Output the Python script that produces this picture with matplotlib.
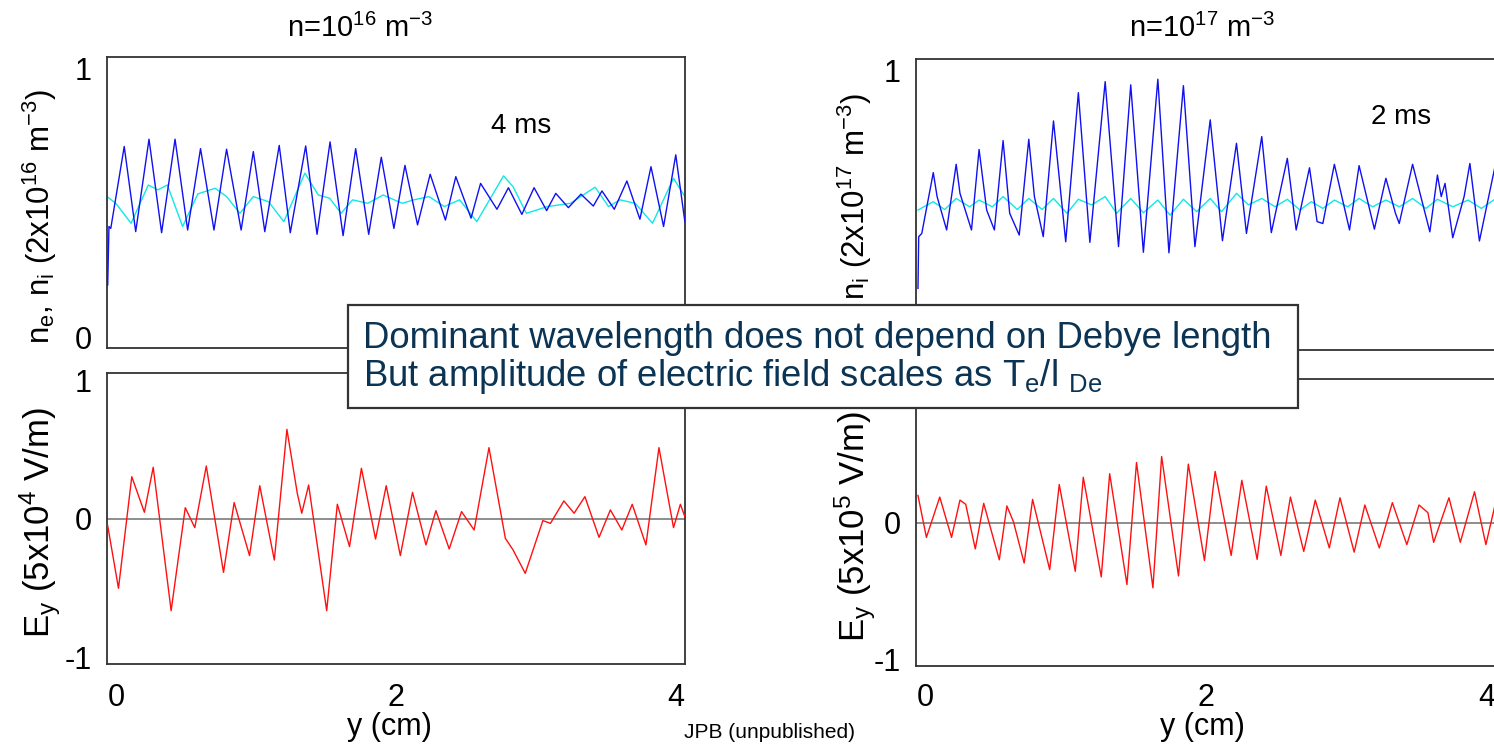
import matplotlib
matplotlib.use("Agg")
import matplotlib.pyplot as plt
from matplotlib.patches import Rectangle

plt.rcParams['font.family'] = ['Liberation Sans', 'DejaVu Sans']
plt.rcParams['mathtext.fontset'] = 'custom'
plt.rcParams['mathtext.rm'] = 'Liberation Sans'
plt.rcParams['mathtext.it'] = 'Liberation Sans'
plt.rcParams['mathtext.default'] = 'regular'

# ---------------- data: n = 1e16 m^-3 (left column) ----------------
ne16_y = [-0.059, -0.050, -0.037, 0.059, 0.141, 0.236, 0.326, 0.422, 0.512, 0.604,
          0.700, 0.790, 0.894, 0.981, 1.063, 1.166, 1.245, 1.355, 1.436, 1.529,
          1.622, 1.712, 1.805, 1.895, 1.985, 2.064, 2.154, 2.244, 2.353, 2.427,
          2.536, 2.604, 2.721, 2.803, 2.899, 2.986, 3.076, 3.141, 3.231, 3.321,
          3.409, 3.471, 3.559, 3.649, 3.742, 3.821, 3.911, 3.998, 4.063]
ne16 = [0.195, 0.412, 0.405, 0.709, 0.393, 0.736, 0.389, 0.736, 0.399, 0.701,
        0.399, 0.699, 0.399, 0.690, 0.393, 0.713, 0.389, 0.711, 0.383, 0.726,
        0.378, 0.701, 0.383, 0.669, 0.405, 0.639, 0.418, 0.606, 0.436, 0.597,
        0.443, 0.572, 0.476, 0.556, 0.457, 0.556, 0.471, 0.535, 0.482, 0.532,
        0.488, 0.544, 0.476, 0.581, 0.439, 0.634, 0.412, 0.678, 0.430]

ni16_y = [-0.064, -0.001, 0.108, 0.231, 0.299, 0.367, 0.476, 0.585, 0.708, 0.790,
          0.885, 0.981, 1.090, 1.199, 1.349, 1.445, 1.526, 1.608, 1.690, 1.799,
          1.908, 2.045, 2.127, 2.236, 2.345, 2.454, 2.577, 2.768, 2.836, 2.931,
          3.081, 3.245, 3.422, 3.518, 3.600, 3.709, 3.832, 3.982, 4.063]
ni16 = [0.523, 0.498, 0.424, 0.566, 0.548, 0.566, 0.412, 0.533, 0.554, 0.523,
        0.461, 0.523, 0.504, 0.430, 0.610, 0.529, 0.517, 0.461, 0.511, 0.498,
        0.529, 0.498, 0.511, 0.523, 0.486, 0.511, 0.430, 0.600, 0.560, 0.461,
        0.486, 0.498, 0.558, 0.486, 0.511, 0.498, 0.424, 0.591, 0.523]

ey16_y = [-0.059, 0.018, 0.113, 0.203, 0.266, 0.394, 0.495, 0.563, 0.645, 0.768,
          0.844, 0.954, 1.027, 1.131, 1.221, 1.295, 1.327, 1.376, 1.505, 1.581,
          1.668, 1.753, 1.854, 1.930, 2.031, 2.118, 2.214, 2.285, 2.380, 2.468,
          2.558, 2.664, 2.781, 2.836, 2.923, 3.049, 3.103, 3.199, 3.272, 3.349,
          3.450, 3.531, 3.613, 3.687, 3.785, 3.878, 3.982, 4.031, 4.063]
ey16 = [-0.051, -0.503, 0.303, 0.046, 0.371, -0.665, 0.079, -0.065, 0.380, -0.388,
        0.116, -0.267, 0.238, -0.299, 0.645, 0.183, 0.039, 0.243, -0.665, 0.104,
        -0.202, 0.364, -0.147, 0.238, -0.267, 0.190, -0.190, 0.058, -0.219, 0.051,
        -0.082, 0.513, -0.142, -0.226, -0.395, -0.014, -0.034, 0.128, 0.039, 0.159,
        -0.135, 0.063, -0.082, 0.104, -0.190, 0.513, -0.065, 0.104, 0.014]

# ---------------- data: n = 1e17 m^-3 (right column) ----------------
ne17_y = [-0.052, -0.047, -0.025, 0.057, 0.084, 0.152, 0.220, 0.247, 0.329, 0.383,
          0.437, 0.492, 0.554, 0.601, 0.669, 0.737, 0.777, 0.840, 0.913, 1.000,
          1.090, 1.172, 1.281, 1.376, 1.463, 1.553, 1.656, 1.735, 1.838, 1.920,
          2.029, 2.116, 2.216, 2.287, 2.396, 2.464, 2.578, 2.641, 2.736, 2.790,
          2.831, 2.913, 3.021, 3.089, 3.198, 3.280, 3.348, 3.375, 3.470, 3.593,
          3.647, 3.674, 3.701, 3.756, 3.837, 3.878, 3.946, 4.055, 4.077]
ne17 = [0.189, 0.381, 0.393, 0.619, 0.530, 0.406, 0.650, 0.542, 0.406, 0.705,
        0.480, 0.406, 0.738, 0.468, 0.387, 0.743, 0.530, 0.381, 0.811, 0.362,
        0.916, 0.360, 0.957, 0.344, 0.945, 0.323, 0.966, 0.321, 0.942, 0.344,
        0.815, 0.366, 0.728, 0.393, 0.753, 0.396, 0.672, 0.406, 0.637, 0.437,
        0.430, 0.650, 0.406, 0.645, 0.409, 0.598, 0.468, 0.430, 0.650, 0.399,
        0.610, 0.530, 0.579, 0.377, 0.530, 0.653, 0.365, 0.637, 0.517]

ni17_y = [-0.052, 0.057, 0.138, 0.220, 0.315, 0.383, 0.478, 0.554, 0.655, 0.737,
          0.832, 0.913, 1.009, 1.090, 1.185, 1.281, 1.362, 1.463, 1.553, 1.656,
          1.743, 1.838, 1.933, 2.029, 2.110, 2.216, 2.301, 2.396, 2.491, 2.578,
          2.668, 2.749, 2.831, 2.913, 3.008, 3.089, 3.185, 3.280, 3.375, 3.470,
          3.565, 3.647, 3.756, 3.865, 3.960, 4.055, 4.077]
ni17 = [0.480, 0.511, 0.482, 0.523, 0.492, 0.517, 0.492, 0.530, 0.482, 0.523,
        0.482, 0.523, 0.468, 0.520, 0.499, 0.530, 0.468, 0.523, 0.470, 0.517,
        0.461, 0.520, 0.474, 0.523, 0.474, 0.542, 0.499, 0.523, 0.492, 0.520,
        0.480, 0.511, 0.486, 0.517, 0.492, 0.523, 0.492, 0.517, 0.492, 0.523,
        0.486, 0.520, 0.492, 0.517, 0.486, 0.520, 0.511]

ey17_y = [-0.052, 0.008, 0.103, 0.187, 0.247, 0.288, 0.356, 0.416, 0.527, 0.581,
          0.628, 0.704, 0.764, 0.886, 0.954, 1.068, 1.125, 1.253, 1.313, 1.436,
          1.504, 1.621, 1.683, 1.803, 1.873, 1.988, 2.064, 2.178, 2.254, 2.363,
          2.428, 2.532, 2.600, 2.695, 2.777, 2.877, 2.953, 3.054, 3.130, 3.233,
          3.326, 3.429, 3.516, 3.579, 3.620, 3.674, 3.729, 3.810, 3.911, 3.992,
          4.077]
ey17 = [0.198, -0.109, 0.186, -0.109, 0.164, 0.133, -0.193, 0.140, -0.273, 0.121,
        0.005, -0.297, 0.169, -0.345, 0.278, -0.357, 0.331, -0.398, 0.357, -0.454,
        0.439, -0.478, 0.483, -0.391, 0.427, -0.278, 0.374, -0.241, 0.309, -0.270,
        0.266, -0.241, 0.186, -0.212, 0.164, -0.186, 0.181, -0.217, 0.128, -0.186,
        0.145, -0.162, 0.128, 0.072, -0.145, 0.017, 0.181, -0.145, 0.225, -0.162,
        0.217]

xticks = [0, 2, 4]
xtick_labels = ['0', '2', '4']
n_ticks_left = [0, 1]
n_ticks_right = [1]          # the "0" label is hidden behind the note box
e_ticks_left = [-1, 0, 1]
e_ticks_right = [-1, 0]      # the "1" label is hidden behind the note box

titles = [r'n=10$^{16}$ m$^{-3}$', r'n=10$^{17}$ m$^{-3}$']
n_labels = [r'n$_{e}$, n$_{i}$ (2x10$^{16}$ m$^{-3}$)', r'n$_{i}$ (2x10$^{17}$ m$^{-3}$)']
e_labels = [r'E$_{y}$ (5x10$^{4}$ V/m)', r'E$_{y}$ (5x10$^{5}$ V/m)']
times = ['4 ms', '2 ms']

W, H = 1494, 745
fig = plt.figure(figsize=(W / 100, H / 100), dpi=100)


def fx(px):
    return px / W


def fy(py):
    return 1 - py / H


def make_ax(left, top, right, bottom):
    return fig.add_axes([fx(left), fy(bottom), fx(right - left), (bottom - top) / H])


ax_lt = make_ax(107, 57.3, 685, 348.3)
ax_lb = make_ax(107, 373.3, 685, 664)
ax_rt = make_ax(916.3, 59.3, 1496, 350)
ax_rb = make_ax(916.3, 379, 1496, 666)

XL = (-0.064, 4.064)
TICK_FS = 22
SPINE_C = '#333333'

for ax in (ax_lt, ax_lb, ax_rt, ax_rb):
    ax.set_xlim(*XL)
    for s in ax.spines.values():
        s.set_color(SPINE_C)
        s.set_linewidth(1.3)
    ax.tick_params(length=0, labelsize=TICK_FS, pad=11, colors='black')

for ax, ticks in ((ax_lt, n_ticks_left), (ax_rt, n_ticks_right)):
    ax.set_ylim(-0.04, 1.04)
    ax.set_yticks(ticks)
    ax.set_yticklabels([str(t) for t in ticks])
    ax.set_xticks([])
for ax, ticks in ((ax_lb, e_ticks_left), (ax_rb, e_ticks_right)):
    ax.set_ylim(-1.05, 1.05)
    ax.set_yticks(ticks)
    ax.set_yticklabels([str(t) for t in ticks])
    ax.set_xticks(xticks)
    ax.set_xticklabels(xtick_labels)
    ax.tick_params(axis='x', pad=14)
    ax.axhline(0, color='#7a7a7a', lw=1.2, zorder=1)
ax_rb.tick_params(axis='x', pad=12)

BLUE = '#1010f0'
CYAN = '#10e8e8'
RED = '#ff1010'
LW = 1.0

ax_lt.plot(ni16_y, ni16, color=CYAN, lw=LW, zorder=2)
ax_lt.plot(ne16_y, ne16, color=BLUE, lw=LW, zorder=3)
ax_rt.plot(ni17_y, ni17, color=CYAN, lw=LW, zorder=2)
ax_rt.plot(ne17_y, ne17, color=BLUE, lw=LW, zorder=3)
ax_lb.plot(ey16_y, ey16, color=RED, lw=LW, zorder=3)
ax_rb.plot(ey17_y, ey17, color=RED, lw=LW, zorder=3)

# time labels
fig.text(fx(521), fy(126), times[0], fontsize=20, ha='center', va='center')
fig.text(fx(1401), fy(117), times[1], fontsize=20, ha='center', va='center')

# titles
fig.text(fx(360), fy(28), titles[0], fontsize=21, ha='center', va='center')
fig.text(fx(1202), fy(28), titles[1], fontsize=21, ha='center', va='center')

# y labels (right-top label: only the part above the note box is visible)
fig.text(fx(40), fy(216), n_labels[0], fontsize=22.5, rotation=90, ha='center', va='center')
fig.text(fx(40), fy(523), e_labels[0], fontsize=25, rotation=90, ha='center', va='center')
fig.text(fx(855), fy(93), n_labels[1], fontsize=22.5, rotation=90, ha='center', va='top')
fig.text(fx(855), fy(527), e_labels[1], fontsize=25, rotation=90, ha='center', va='center')

# x labels
fig.text(fx(389), fy(727), 'y (cm)', fontsize=22, ha='center', va='center')
fig.text(fx(1202), fy(727), 'y (cm)', fontsize=22, ha='center', va='center')
fig.text(fx(770), fy(733), 'JPB (unpublished)', fontsize=15, ha='center', va='center')

# annotation box
box = Rectangle((fx(348), fy(408)), fx(1298 - 348), (408 - 305) / H,
                transform=fig.transFigure, facecolor='white', edgecolor='#333333',
                lw=1.6, zorder=10)
fig.add_artist(box)
TXT_C = '#0b3454'
fig.text(fx(363), fy(348), 'Dominant wavelength does not depend on Debye length',
         fontsize=26.3, color=TXT_C, ha='left', va='baseline', zorder=11)
fig.text(fx(363), fy(386), r'But amplitude of electric field scales as T$_{e}$/l $_{De}$',
         fontsize=26.3, color=TXT_C, ha='left', va='baseline', zorder=11)

fig.savefig('out.png', dpi=100)
